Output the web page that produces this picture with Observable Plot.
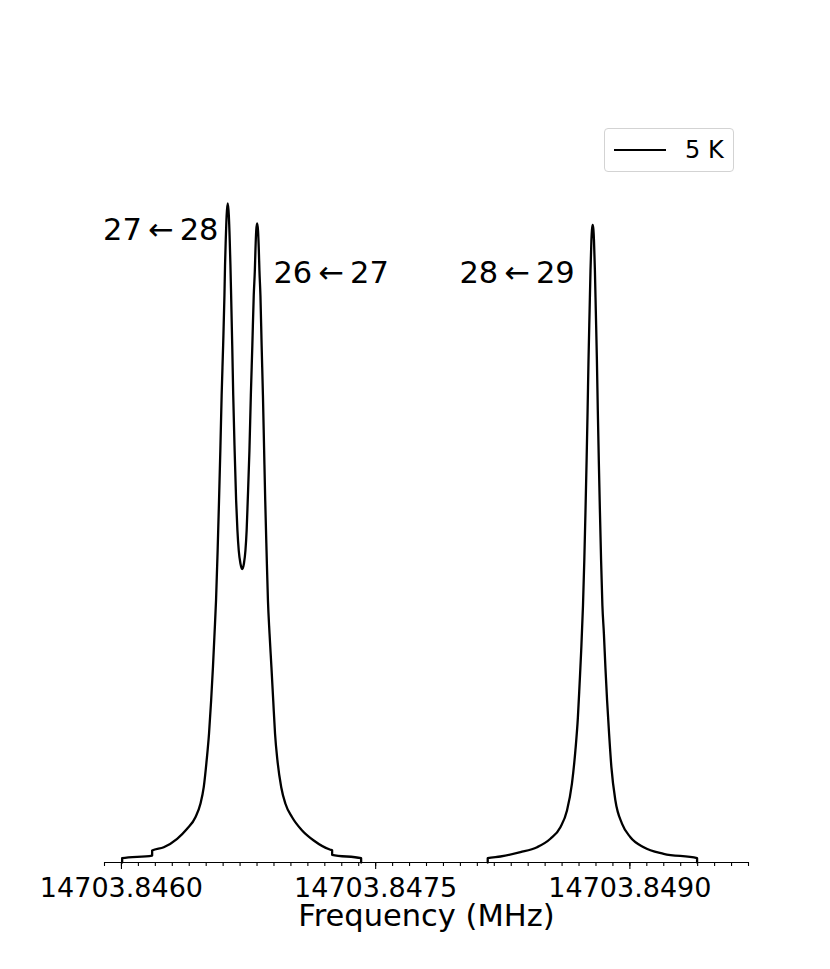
<!DOCTYPE html>
<html>
<head>
<meta charset="utf-8">
<script src="https://cdn.jsdelivr.net/npm/d3@7"></script>
<script src="https://cdn.jsdelivr.net/npm/@observablehq/plot@0.6"></script>
<style>
  html, body { margin: 0; padding: 0; background: #fff; }
  #wrap { position: relative; width: 830px; height: 969px; font-family: "DejaVu Sans", sans-serif; }
  #legend { position: absolute; left: 604px; top: 128px; width: 130px; height: 44px;
    border: 1px solid #d3d3d3; border-radius: 4px; background: rgba(255,255,255,0.8); box-sizing: border-box; }
  #legend .ln { position: absolute; left: 9px; top: 20px; width: 52px; height: 0; border-top: 2.2px solid #000; }
  #legend .tx { position: absolute; left: 80px; top: 6px; font-size: 24px; line-height: 30px; color: #000; }
</style>
</head>
<body>
<div id="wrap"></div>
<script>
// Doublet (27<-28 and 26<-27): frequency (MHz), intensity (arb.)
const doubletFreq = [
  14703.8460041, 14703.8460042, 14703.8461811, 14703.8461812, 14703.8462496, 14703.8463286,
  14703.8463876, 14703.8464366, 14703.8464661, 14703.8464856, 14703.8465027, 14703.8465168,
  14703.8465292, 14703.8465399, 14703.8465493, 14703.8465581, 14703.8465676, 14703.8465758,
  14703.8465835, 14703.8465912, 14703.8466000, 14703.8466077, 14703.8466112, 14703.8466154,
  14703.8466207, 14703.8466272, 14703.8466337, 14703.8466390, 14703.8466431, 14703.8466472,
  14703.8466537, 14703.8466596, 14703.8466679, 14703.8466767, 14703.8466844, 14703.8466921,
  14703.8467021, 14703.8467121, 14703.8467228, 14703.8467316, 14703.8467387, 14703.8467452,
  14703.8467552, 14703.8467635, 14703.8467723, 14703.8467806, 14703.8467871, 14703.8467906,
  14703.8467953, 14703.8468006, 14703.8468059, 14703.8468107, 14703.8468142, 14703.8468201,
  14703.8468272, 14703.8468349, 14703.8468419, 14703.8468484, 14703.8468561, 14703.8468644,
  14703.8468738, 14703.8468850, 14703.8468956, 14703.8469062, 14703.8469204, 14703.8469428,
  14703.8469676, 14703.8470071, 14703.8470661, 14703.8471346, 14703.8472331, 14703.8472431,
  14703.8472432, 14703.8474142, 14703.8474143
];
const doubletInt = [
  0, 0.0065, 0.0106, 0.0182, 0.0232, 0.0360,
  0.0511, 0.0687, 0.0891, 0.1143, 0.1548, 0.1958,
  0.2458, 0.2964, 0.3475, 0.3976, 0.4734, 0.5493,
  0.6252, 0.7086, 0.7845, 0.8604, 0.9059, 0.9439,
  0.9818, 1.0000, 0.9818, 0.9439, 0.9059, 0.8604,
  0.7845, 0.7086, 0.6252, 0.5493, 0.5038, 0.4734,
  0.4537, 0.4454, 0.4537, 0.4734, 0.5038, 0.5493,
  0.6252, 0.7086, 0.7845, 0.8604, 0.8983, 0.9287,
  0.9590, 0.9697, 0.9590, 0.9287, 0.8983, 0.8604,
  0.7845, 0.7086, 0.6252, 0.5493, 0.4734, 0.3976,
  0.3475, 0.2964, 0.2458, 0.1958, 0.1548, 0.1143,
  0.0891, 0.0687, 0.0486, 0.0334, 0.0193, 0.0185,
  0.0117, 0.0065, 0
];
// Single line (28<-29)
const singleFreq = [
  14703.8481612, 14703.8481613, 14703.8482361, 14703.8483541, 14703.8484526, 14703.8485311,
  14703.8485901, 14703.8486290, 14703.8486580, 14703.8486786, 14703.8486934, 14703.8487034,
  14703.8487128, 14703.8487234, 14703.8487311, 14703.8487382, 14703.8487447, 14703.8487506,
  14703.8487559, 14703.8487624, 14703.8487677, 14703.8487730, 14703.8487765, 14703.8487807,
  14703.8487848, 14703.8487883, 14703.8487937, 14703.8487990, 14703.8488055, 14703.8488108,
  14703.8488167, 14703.8488232, 14703.8488302, 14703.8488379, 14703.8488468, 14703.8488556,
  14703.8488656, 14703.8488774, 14703.8488910, 14703.8489146, 14703.8489541, 14703.8490031,
  14703.8490816, 14703.8491996, 14703.8493966, 14703.8493967
];
const singleInt = [
  0, 0.0065, 0.0091, 0.0156, 0.0232, 0.0360,
  0.0536, 0.0789, 0.1194, 0.1700, 0.2205, 0.2712,
  0.3217, 0.3900, 0.4583, 0.5341, 0.6100, 0.6859,
  0.7618, 0.8376, 0.8983, 0.9439, 0.9605, 0.9674,
  0.9605, 0.9439, 0.8983, 0.8376, 0.7618, 0.6859,
  0.6100, 0.5341, 0.4583, 0.3900, 0.3470, 0.2964,
  0.2458, 0.1953, 0.1446, 0.0941, 0.0587, 0.0384,
  0.0232, 0.0132, 0.0065, 0
];
// Transition labels
const labelText = ["27\u2009\u2190\u200928", "26\u2009\u2190\u200927", "28\u2009\u2190\u200929"];
const labelFreq = [14703.8465723, 14703.8468968, 14703.8479942];
const labelInt = [0.959, 0.8938, 0.8938];
const labelAnchor = ["end", "start", "start"];
// Axis ticks
const majorTicks = [14703.8460, 14703.8475, 14703.8490];
const minorTicks = d3.range(0, 39).map(i => +(14703.8459 + i * 0.0001).toFixed(4));
const xDomain = [14703.8459, 14703.8497];
const legendLabel = "5 K";
const xLabel = "Frequency (MHz)";

const series = [
  ...doubletFreq.map((f, i) => ({f, v: doubletInt[i], s: "a"})),
  ...singleFreq.map((f, i) => ({f, v: singleInt[i], s: "b"}))
];
const labels = labelText.map((t, i) => ({t, f: labelFreq[i], v: labelInt[i], a: labelAnchor[i]}));

const font = "DejaVu Sans";
const chart = Plot.plot({
  width: 830,
  height: 969,
  marginLeft: 104,
  marginRight: 82,
  marginTop: 116,
  marginBottom: 107,
  style: {fontFamily: font, background: "#fff", color: "#000", overflow: "visible"},
  x: {domain: xDomain, axis: null},
  y: {domain: [0, 1.132], axis: null},
  marks: [
    Plot.ruleY([0], {stroke: "#000", strokeWidth: 1.1}),
    Plot.axisX({ticks: minorTicks, tickSize: 4, tickFormat: () => "", label: null, stroke: "#000", strokeWidth: 1.1}),
    Plot.axisX({ticks: majorTicks, tickSize: 7, tickPadding: 8, tickFormat: d3.format(".4f"),
      fontSize: 27, fill: "#000", stroke: "#000", strokeWidth: 1.1, label: null}),
    Plot.line(series, {x: "f", y: "v", z: "s", stroke: "#000", strokeWidth: 2.3, curve: "monotone-x"}),
    ...labels.map(d => Plot.text([d], {x: "f", y: "v", text: "t", textAnchor: d.a,
      fontSize: 30.5, fill: "#000"})),
    Plot.text([xLabel], {frameAnchor: "bottom", dy: 63, lineAnchor: "bottom", fontSize: 30.5, fill: "#000"})
  ]
});
const wrap = document.getElementById("wrap");
wrap.appendChild(chart);
const lg = document.createElement("div");
lg.id = "legend";
lg.innerHTML = `<div class="ln"></div><div class="tx">${legendLabel}</div>`;
wrap.appendChild(lg);
</script>
</body>
</html>
